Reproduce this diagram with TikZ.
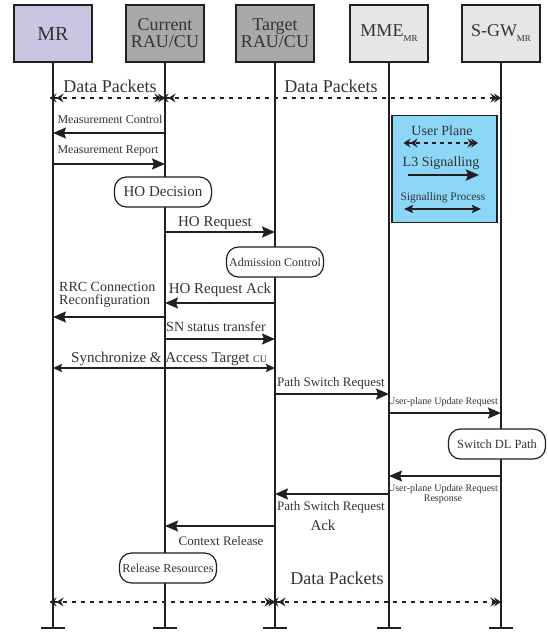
\documentclass[tikz,border=0pt]{standalone}
\usepackage{fontspec}
\setmainfont{Liberation Serif}
\usetikzlibrary{arrows.meta}
\definecolor{ln}{HTML}{231F20}
\definecolor{txt}{HTML}{333333}
\definecolor{mrfill}{HTML}{C9C5E2}
\definecolor{cufill}{HTML}{A9A9A9}
\definecolor{corefill}{HTML}{E6E6E6}
\definecolor{legfill}{HTML}{8CD7F7}
\newcommand{\myfs}[1]{\fontsize{#1}{#1}\selectfont}
\newcommand{\msg}[4]{\draw[#1] (#2 |- 0,#4) -- (#3 |- 0,#4);}
\begin{document}
\begin{tikzpicture}[x=1pt,y=-1pt,
  entity/.style={draw=ln,line width=1.2pt,minimum width=78pt,minimum height=57pt,inner sep=0pt,text=txt,align=center,font=\myfs{18}},
  life/.style={draw=ln,line width=1.8pt},
  proc/.style={draw=ln,line width=1.2pt,fill=white,rounded corners=12pt,minimum width=97pt,minimum height=30pt,inner sep=0pt,text=txt},
  lbl/.style={text=txt,inner sep=0pt,align=center},
  sig/.style={draw=ln,line width=1.8pt,-{Stealth[length=13pt,width=11pt,inset=2pt]}},
  dat/.style={draw=ln,line width=2pt,dash pattern=on 4.5pt off 4.5pt,
     {Stealth[length=7pt,width=9pt,inset=2.5pt,sep=-3.5pt]Stealth[length=7pt,width=9pt,inset=2.5pt]}-{Stealth[length=7pt,width=9pt,inset=2.5pt,sep=-3.5pt]Stealth[length=7pt,width=9pt,inset=2.5pt]}},
  both/.style={draw=ln,line width=1.8pt,{Stealth[length=9pt,width=8pt,inset=1.5pt]}-{Stealth[length=9pt,width=8pt,inset=1.5pt]}}
]
\useasboundingbox (0,0) rectangle (548,633);
% entities
\node[entity,fill=mrfill,font=\myfs{20}] (mr) at (53,33.5) {MR};
\node[entity,fill=cufill] (cur) at (165,33.5) {Current\\[-1pt]RAU/CU};
\node[entity,fill=cufill] (tgt) at (275,33.5) {Target\\[-1pt]RAU/CU};
\node[entity,fill=corefill] (mme) at (389,33.5) {MME\raisebox{-5pt}{\myfs{9}MR}};
\node[entity,fill=corefill] (sgw) at (501,33.5) {S-GW\raisebox{-5pt}{\myfs{9}MR}};
% lifelines
\foreach \n/\x in {mr/53,cur/165,tgt/275,mme/389,sgw/501}{
  \coordinate (\n-end) at (\x,628);
  \draw[life] (\n.south) -- (\n-end);
  \draw[life] ([xshift=-12pt]\n-end) -- ([xshift=12pt]\n-end);
}
% legend
\node[draw=ln,line width=1.2pt,fill=legfill,minimum width=105pt,minimum height=107pt] (leg) at (444.5,169) {};
\node[lbl,font=\myfs{14}] (legup) at (442,131) {User Plane};
\coordinate (lu1) at (407,143); \coordinate (lu2) at (478,143);
\draw[dat,line width=1.6pt,dash pattern=on 4pt off 4pt] (lu1) -- (lu2);
\node[lbl,font=\myfs{14}] (legl3) at (441,163) {L3 Signalling};
\coordinate (ll1) at (408,175); \coordinate (ll2) at (479,175);
\draw[sig,line width=2.4pt] (ll1) -- (ll2);
\node[lbl,font=\myfs{11.4}] (legsp) at (443,198) {Signalling Process};
\coordinate (ls1) at (404,209); \coordinate (ls2) at (481,209);
\draw[both] (ls1) -- (ls2);
% messages
\node[lbl,font=\myfs{18}] (dp1) at (110,86) {Data Packets};
\node[lbl,font=\myfs{18}] (dp2) at (331,86) {Data Packets};
\msg{dat}{mr}{cur}{98}
\msg{dat}{cur}{sgw}{98}
\node[lbl,font=\myfs{12}] (mc) at (110,119) {Measurement Control};
\msg{sig}{cur}{mr}{133}
\node[lbl,font=\myfs{12}] (mrep) at (108,151) {Measurement Report};
\msg{sig}{mr}{cur}{164}
\node[proc,font=\myfs{15}] (hod) at (163,192) {HO Decision};
\node[lbl,font=\myfs{15}] (hor) at (215,223) {HO Request};
\msg{sig}{cur}{tgt}{232}
\node[proc,font=\myfs{12}] (adm) at (275,262) {Admission Control};
\node[lbl,font=\myfs{14},align=left,anchor=west] (rrc) at (59,294.5) {RRC Connection\\[-1pt]Reconfiguration};
\node[lbl,font=\myfs{15}] (hora) at (220,290) {HO Request Ack};
\msg{sig}{tgt}{cur}{303}
\msg{sig}{cur}{mr}{317}
\node[lbl,font=\myfs{14}] (sn) at (216,327) {SN status transfer};
\msg{sig}{cur}{tgt}{339}
\node[lbl,font=\myfs{15},anchor=west] (sync) at (71,359) {Synchronize \& Access Target {\myfs{10}CU}};
\msg{both}{mr}{tgt}{368}
\node[lbl,font=\myfs{13}] (psr) at (331,383) {Path Switch Request};
\msg{sig}{tgt}{mme}{394}
\node[lbl,font=\myfs{10}] (upur) at (443,402) {User-plane Update Request};
\msg{sig}{mme}{sgw}{413}
\node[proc,font=\myfs{12.5}] (sdl) at (497,444) {Switch DL Path};
\msg{sig}{sgw}{mme}{476}
\node[lbl,font=\myfs{10}] (upurr) at (443,494.5) {User-plane Update Request\\Response};
\msg{sig}{mme}{tgt}{494}
\node[lbl,font=\myfs{13}] (psra1) at (331,507) {Path Switch Request};
\node[lbl,font=\myfs{15}] (psra2) at (323,525) {Ack};
\msg{sig}{tgt}{cur}{526}
\node[lbl,font=\myfs{13}] (cr) at (221,541) {Context Release};
\node[proc,font=\myfs{12.2}] (rr) at (168,568) {Release Resources};
\node[lbl,font=\myfs{18}] (dp3) at (337,578) {Data Packets};
\msg{dat}{mr}{tgt}{602}
\msg{dat}{tgt}{sgw}{602}
\end{tikzpicture}
\end{document}
